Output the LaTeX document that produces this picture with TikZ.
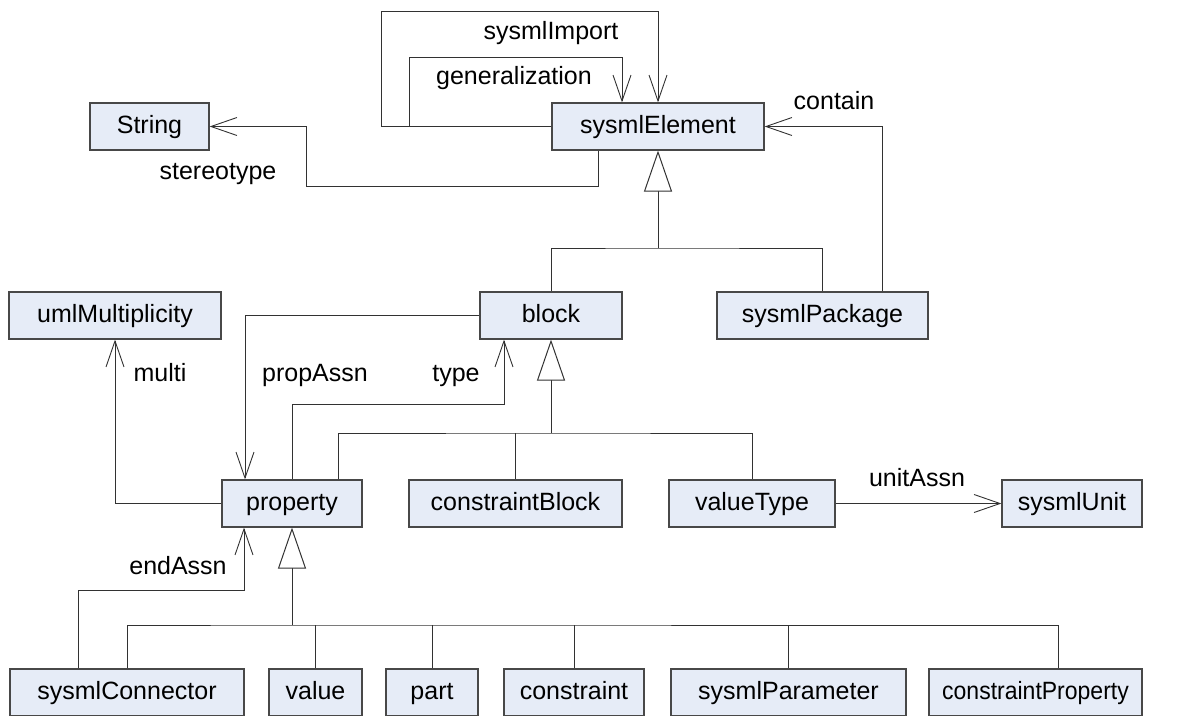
\documentclass[tikz,border=0pt]{standalone}
\usepackage{fontspec}
\setmainfont{Liberation Sans}
\usetikzlibrary{arrows.meta,calc}
\definecolor{boxfill}{RGB}{230,236,247}
\definecolor{boxline}{RGB}{72,72,72}
\definecolor{wire}{RGB}{50,50,50}
\begin{document}
\begin{tikzpicture}[x=1pt,y=-1pt,
  cls/.style={draw=boxline,fill=boxfill,line width=1.2pt,minimum height=47pt,
              inner sep=0pt,text height=18.5pt,text depth=5pt,
              font=\fontsize{25}{30}\selectfont},
  lbl/.style={inner sep=0pt,text height=18.5pt,text depth=5pt,
              font=\fontsize{25}{30}\selectfont},
  assoc/.style={draw=wire,line width=0.9pt,-{Straight Barb[length=26pt,width=18pt,line width=0.9pt]}},
  link/.style={draw=wire,line width=0.9pt},
  gen/.style={draw=wire,line width=0.9pt,-{Triangle[open,fill=white,length=41pt,width=28pt,line width=1pt]}}]
\useasboundingbox (0,0) rectangle (1188,715);

% classes
\node[cls,minimum width=119pt] (String) at (149.5,126.5) {String};
\node[cls,minimum width=212pt] (sysmlElement) at (658,126.5) {sysmlElement};
\node[cls,minimum width=212pt] (umlMultiplicity) at (115,315.5) {umlMultiplicity};
\node[cls,minimum width=142pt] (block) at (551,315.5) {block};
\node[cls,minimum width=211pt] (sysmlPackage) at (822.5,315.5) {sysmlPackage};
\node[cls,minimum width=140pt] (property) at (292,503.5) {property};
\node[cls,minimum width=213pt] (constraintBlock) at (515.5,503.5) {constraintBlock};
\node[cls,minimum width=166pt] (valueType) at (752,503.5) {valueType};
\node[cls,minimum width=140pt] (sysmlUnit) at (1072,503.5) {sysmlUnit};
\node[cls,minimum width=234pt] (sysmlConnector) at (127,692.5) {sysmlConnector};
\node[cls,minimum width=93pt] (value) at (315.5,692.5) {value};
\node[cls,minimum width=92pt] (part) at (432,692.5) {part};
\node[cls,minimum width=140pt] (constraint) at (574,692.5) {constraint};
\node[cls,minimum width=235pt] (sysmlParameter) at (788.5,692.5) {sysmlParameter};
\node[cls,minimum width=213pt] (constraintProperty) at (1035.5,692.5)
  {\scalebox{0.92}[1]{constraintProperty}};

% routing points
\coordinate (g1) at (658,248);
\coordinate (g2) at (551,433);
\coordinate (g3) at (292,625);
\coordinate (impTop) at (381,11);
\coordinate (genTop) at (409,57);
\coordinate (stBend) at (306,186);
\coordinate (typeBend) at (504,404);
\coordinate (endBend) at (244,590);

% generalization trees
\draw[gen] (g1) -- (sysmlElement.south);
\draw[link] (block.north) |- (g1) -| (sysmlPackage.north);

\draw[gen] (g2) -- (block.south);
\draw[link] ($(property.north)+(46,0)$) |- (g2) -| (valueType.north);
\draw[link] (constraintBlock.north) -- (constraintBlock.north |- g2);

\draw[gen] (g3) -- (property.south);
\draw[link] (sysmlConnector.north) |- (g3) -| ($(constraintProperty.north)+(22.5,0)$);
\draw[link] (value.north) -- (value.north |- g3);
\draw[link] (part.north) -- (part.north |- g3);
\draw[link] (constraint.north) -- (constraint.north |- g3);
\draw[link] (sysmlParameter.north) -- (sysmlParameter.north |- g3);

% associations
\draw[assoc] (sysmlElement.west) -| (impTop) -| (sysmlElement.north);
\draw[assoc] (sysmlElement.west) -| (genTop) -| ($(sysmlElement.north)+(-36,0)$);
\draw[assoc] ($(sysmlElement.south)+(-60,0)$) |- (stBend) |- (String.east);
\draw[assoc] ($(sysmlPackage.north)+(60,0)$) |- (sysmlElement.east);
\draw[assoc] (block.west) -| ($(property.north)+(-47,0)$);
\draw[assoc] (property.north) |- (typeBend) -- (block.south -| typeBend);
\draw[assoc] (property.west) -| (umlMultiplicity.south);
\draw[assoc] (valueType.east) -- (sysmlUnit.west);
\draw[assoc] ($(sysmlConnector.north)+(-49,0)$) |- (endBend) -- (property.south -| endBend);

% role names
\node[lbl] (lImport) at (551,33) {sysmlImport};
\node[lbl] (lGen) at (514,78) {generalization};
\node[lbl] (lContain) at (834,103) {contain};
\node[lbl] (lStereo) at (218,173) {stereotype};
\node[lbl] (lMulti) at (160,375) {multi};
\node[lbl] (lProp) at (315,375) {propAssn};
\node[lbl] (lType) at (456,375) {type};
\node[lbl] (lEnd) at (178,568) {endAssn};
\node[lbl] (lUnit) at (917,480) {unitAssn};
\end{tikzpicture}
\end{document}
